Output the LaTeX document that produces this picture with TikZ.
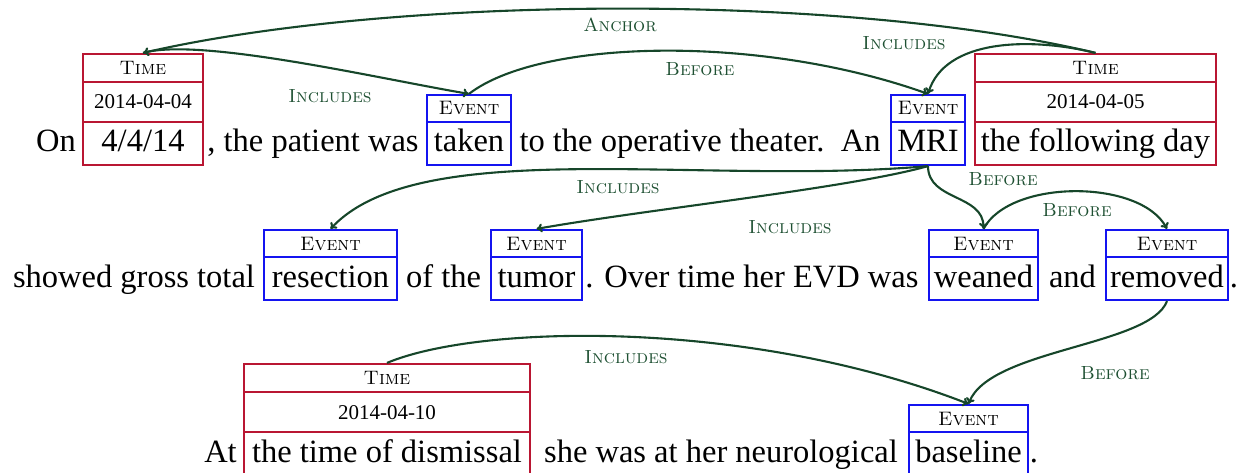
\documentclass[tikz,border=0pt]{standalone}
\usepackage{fontspec}
\setmainfont{Liberation Serif}
\usepackage{tikz}
\usetikzlibrary{arrows.meta}

\definecolor{timered}{RGB}{185,22,50}
\definecolor{eventblue}{RGB}{20,20,240}
\definecolor{arcgreen}{RGB}{22,70,42}
\definecolor{labelgreen}{RGB}{30,80,50}

\tikzset{
	word/.style={inner sep=0pt, text height=24pt, text depth=7pt, font=\fontsize{32.5}{36}\selectfont},
	wordbox/.style={word, draw, line width=2.2pt, minimum height=43pt},
	timebox/.style={wordbox, draw=timered},
	eventbox/.style={wordbox, draw=eventblue},
	headbox/.style={draw, line width=2.2pt, inner sep=0pt, text height=13pt, text depth=0pt, font=\fontsize{19.5}{21}\fontfamily{lmr}\scshape\selectfont},
	timehead/.style={headbox, draw=timered, minimum height=28pt},
	eventhead/.style={headbox, draw=eventblue, minimum height=27pt},
	timedate/.style={draw=timered, line width=2.2pt, inner sep=0pt, minimum height=40pt, text height=14pt, text depth=0pt, font=\fontsize{21}{23}\selectfont},
	relarc/.style={draw=arcgreen, line width=2.1pt, -{To[length=6pt,width=9pt]}},
	rellabel/.style={inner sep=0pt, text=labelgreen, font=\fontsize{19}{21}\fontfamily{lmr}\scshape\selectfont}
}

\begin{document}
\begin{tikzpicture}[x=1pt, y=-1pt]
		%%%%% START %%%%%
		\useasboundingbox (0,0) rectangle (1247,473);
		
		% first line
		\node[word] (on) at (56,143.5) {On};
		\node[timebox, minimum width=120] (t1) at (143,143.5) {4/4/14};
		\node[timedate, minimum width=120] (t1d) at (143,102) {2014-04-04};
		\node[timehead, minimum width=120] (t1h) at (143,68) {Time};
		\node[word] (w2) at (313,143.5) {, the patient was};
		\node[eventbox, minimum width=84] (e1) at (469,143.5) {taken};
		\node[eventhead, minimum width=84] (e1h) at (469,108.5) {Event};
		\node[word] (w3) at (700,143.5) {to the operative theater.\ \ An};
		\node[eventbox, minimum width=74] (e2) at (928,143.5) {MRI};
		\node[eventhead, minimum width=74] (e2h) at (928,108.5) {Event};
		\node[timebox, minimum width=241] (t2) at (1095.5,143.5) {the following day};
		\node[timedate, minimum width=241] (t2d) at (1095.5,102) {2014-04-05};
		\node[timehead, minimum width=241] (t2h) at (1095.5,68) {Time};
		
		% second line
		\node[word] (w4) at (134,278.5) {showed gross total};
		\node[eventbox, minimum width=133] (e3) at (330.5,278.5) {resection};
		\node[eventhead, minimum width=133] (e3h) at (330.5,243.5) {Event};
		\node[word] (w5) at (443.5,278.5) {of the};
		\node[eventbox, minimum width=91] (e4) at (536.5,278.5) {tumor};
		\node[eventhead, minimum width=91] (e4h) at (536.5,243.5) {Event};
		\node[word] (w6) at (752,278.5) {. Over time her EVD was};
		\node[eventbox, minimum width=109] (e5) at (983.5,278.5) {weaned};
		\node[eventhead, minimum width=109] (e5h) at (983.5,243.5) {Event};
		\node[word] (w7) at (1072.5,278.5) {and};
		\node[eventbox, minimum width=122] (e6) at (1167,278.5) {removed};
		\node[eventhead, minimum width=122] (e6h) at (1167,243.5) {Event};
		\node[word] (w8) at (1234,278.5) {.};
		
		% third line
		\node[word] (w9) at (220.5,453.5) {At};
		\node[timebox, minimum width=286] (t3) at (387,453.5) {the time of dismissal};
		\node[timedate, minimum width=286] (t3d) at (387,412) {2014-04-10};
		\node[timehead, minimum width=286] (t3h) at (387,378) {Time};
		\node[word] (w10) at (721,453.5) {she was at her neurological};
		\node[eventbox, minimum width=119] (e7) at (968.5,453.5) {baseline};
		\node[eventhead, minimum width=119] (e7h) at (968.5,418.5) {Event};
		\node[word] (w11) at (1034,453.5) {.};
		
		% relations
		\draw[relarc] (t2h.north) .. controls +(-245.5,-59) and +(257,-59) .. (t1h.north);
		\draw[relarc] (t1h.north) .. controls +(57,-16) and +(-89,-15) .. (e1h.north);
		\draw[relarc] (e1h.north) .. controls +(71,-55) and +(-168,-60) .. (e2h.north);
		\draw[relarc] (t2h.north) .. controls +(-65.5,-16) and +(17,-55) .. (e2h.north);
		\draw[relarc] (e2.south) .. controls +(-228,20) and +(89.5,-95) .. (e3h.north);
		\draw[relarc] (e2.south) .. controls +(-78,22) and +(113.5,-20) .. (e4h.north);
		\draw[relarc] (e2.south) .. controls +(0,35) and +(0,-35) .. (e5h.north);
		\draw[relarc] (e5h.north) .. controls +(26.5,-50) and +(-27,-50) .. (e6h.north);
		\draw[relarc] (e6.south) .. controls +(-17,45) and +(21.5,-55) .. (e7h.north);
		\draw[relarc] (t3h.north) .. controls +(93,-39) and +(-218.5,-85) .. (e7h.north);
		
		\node[rellabel] (l1) at (620,25) {Anchor};
		\node[rellabel] (l2) at (330,96) {Includes};
		\node[rellabel] (l3) at (700,69) {Before};
		\node[rellabel] (l4) at (904,43) {Includes};
		\node[rellabel] (l5) at (618,187) {Includes};
		\node[rellabel] (l6) at (790,227) {Includes};
		\node[rellabel] (l7) at (1003,179) {Before};
		\node[rellabel] (l8) at (1077,210) {Before};
		\node[rellabel] (l9) at (1115,373) {Before};
		\node[rellabel] (l10) at (626,357) {Includes};
		
		%%%%% END %%%%%
	\end{tikzpicture}
\end{document}
